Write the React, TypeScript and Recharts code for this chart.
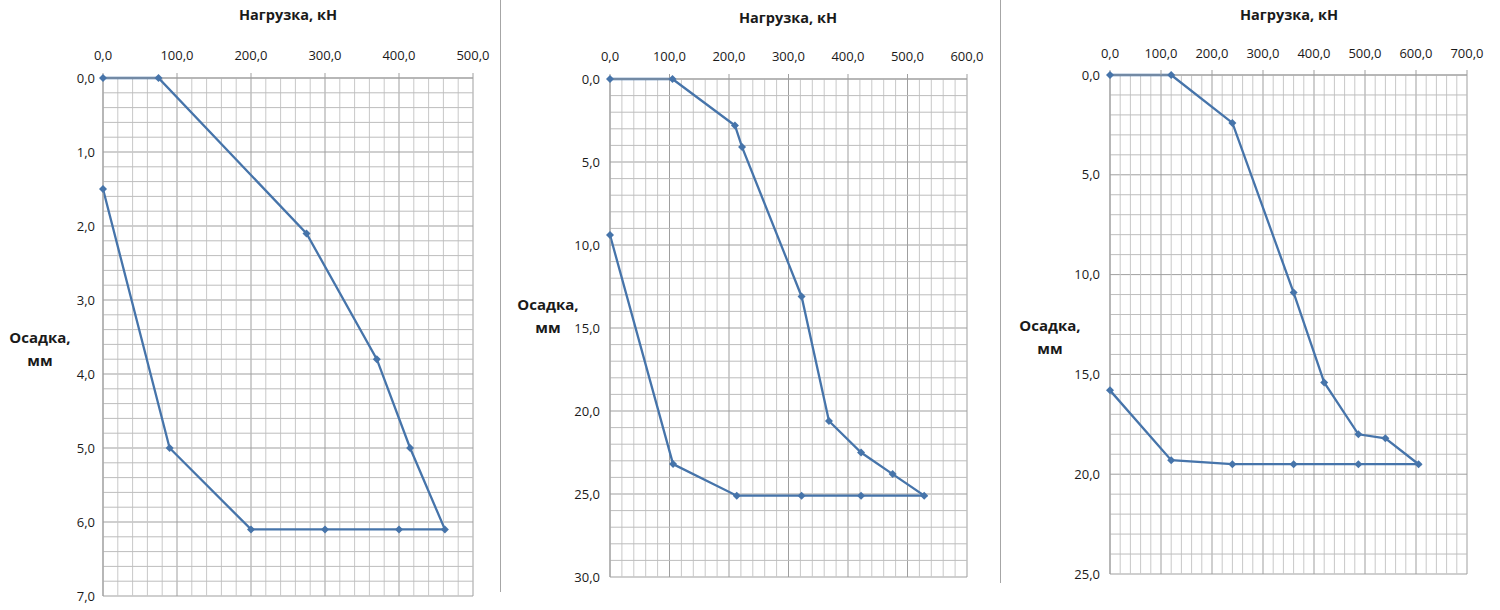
import React from 'react';
import { LineChart, Line, XAxis, YAxis, CartesianGrid, ReferenceLine } from 'recharts';

// Panel 1
const load1 = [0, 75, 275, 370, 415, 462, 400, 300, 200, 90, 0];
const settle1 = [0, 0, 2.1, 3.8, 5.0, 6.1, 6.1, 6.1, 6.1, 5.0, 1.5];
const xTicks1 = [0, 100, 200, 300, 400, 500];
const yTicks1 = [0, 1, 2, 3, 4, 5, 6, 7];

// Panel 2
const load2 = [0, 105, 210, 222, 322, 368, 422, 475, 528, 422, 322, 213, 106, 0];
const settle2 = [0, 0, 2.8, 4.1, 13.1, 20.6, 22.5, 23.8, 25.1, 25.1, 25.1, 25.1, 23.2, 9.4];
const xTicks2 = [0, 100, 200, 300, 400, 500, 600];
const yTicks2 = [0, 5, 10, 15, 20, 25, 30];

// Panel 3
const load3 = [0, 120, 240, 360, 420, 487, 540, 605, 487, 360, 240, 120, 0];
const settle3 = [0, 0, 2.4, 10.9, 15.4, 18.0, 18.2, 19.5, 19.5, 19.5, 19.5, 19.3, 15.8];
const xTicks3 = [0, 100, 200, 300, 400, 500, 600, 700];
const yTicks3 = [0, 5, 10, 15, 20, 25];

const TITLE_X = 'Нагрузка, кН';
const TITLE_Y1 = 'Осадка,';
const TITLE_Y2 = 'мм';

const LINE_COLOR = '#4674aa';
const FONT = '"Open Sans", "Noto Sans", sans-serif';

const minorSteps = (max: number, step: number, major: number[]) => {
  const out: number[] = [];
  const n = Math.round(max / step);
  for (let i = 0; i <= n; i++) {
    const v = +(i * step).toFixed(4);
    if (!major.some((m) => Math.abs(m - v) < 1e-6)) out.push(v);
  }
  return out;
};

const fmt = (v: number) => v.toFixed(1).replace('.', ',');

const Diamond = (props: any) => {
  const { cx, cy, index } = props;
  if (cx == null || cy == null) return null;
  const r = 4;
  return (
    <path
      key={`d-${index}`}
      d={`M${cx},${cy - r}L${cx + r},${cy}L${cx},${cy + r}L${cx - r},${cy}Z`}
      fill={LINE_COLOR}
    />
  );
};

type PanelProps = {
  left: number;
  loads: number[];
  settles: number[];
  xTicks: number[];
  yTicks: number[];
  xMinorStep: number;
  yMinorStep: number;
  margin: { top: number; right: number; bottom: number; left: number };
  xAxisHeight: number;
  xTickMargin: number;
  yTickMargin: number;
  titleX: number;
  titleY: number;
  ylabX: number;
  ylabY: number;
};

const Panel = (p: PanelProps) => {
  const data = p.loads.map((x, i) => ({ x, y: p.settles[i] }));
  const xMax = p.xTicks[p.xTicks.length - 1];
  const yMax = p.yTicks[p.yTicks.length - 1];
  const xMinor = minorSteps(xMax, p.xMinorStep, p.xTicks);
  const yMinor = minorSteps(yMax, p.yMinorStep, p.yTicks);
  return (
    <div style={{ position: 'absolute', left: p.left, top: 0, width: 500, height: 610 }}>
      <LineChart width={500} height={610} data={data} margin={p.margin}>
        <CartesianGrid stroke="#9f9f9f" strokeWidth={1} />
        <XAxis
          type="number"
          dataKey="x"
          domain={[0, xMax]}
          ticks={p.xTicks}
          orientation="top"
          height={p.xAxisHeight}
          tickFormatter={fmt}
          axisLine={{ stroke: '#9f9f9f' }}
          tickLine={{ stroke: '#9f9f9f' }}
          tickSize={5}
          tickMargin={p.xTickMargin}
          tick={{ fill: '#1a1a1a', fontSize: 13, fontFamily: FONT }}
          interval={0}
        />
        <YAxis
          type="number"
          domain={[0, yMax]}
          ticks={p.yTicks}
          reversed
          width={60}
          tickFormatter={fmt}
          axisLine={{ stroke: '#9f9f9f' }}
          tickLine={false}
          tickSize={0}
          tickMargin={p.yTickMargin}
          tick={{ fill: '#1a1a1a', fontSize: 13, fontFamily: FONT }}
          interval={0}
        />
        {xMinor.map((v) => (
          <ReferenceLine key={`vx-${v}`} x={v} stroke="#c8c8c8" strokeWidth={1} />
        ))}
        {yMinor.map((v) => (
          <ReferenceLine key={`hy-${v}`} y={v} stroke="#bdbdbd" strokeWidth={1} />
        ))}
        <Line
          type="linear"
          dataKey="y"
          stroke={LINE_COLOR}
          strokeWidth={2.3}
          dot={Diamond}
          activeDot={false}
          isAnimationActive={false}
        />
      </LineChart>
      <div
        style={{
          position: 'absolute',
          left: p.titleX - 100,
          top: p.titleY - 11,
          width: 200,
          height: 22,
          lineHeight: '22px',
          textAlign: 'center',
          fontFamily: FONT,
          fontWeight: 700,
          fontSize: 14.5,
          color: '#1a1a1a',
        }}
      >
        {TITLE_X}
      </div>
      <div
        style={{
          position: 'absolute',
          left: p.ylabX - 50,
          top: p.ylabY - 11,
          width: 100,
          lineHeight: '23px',
          textAlign: 'center',
          fontFamily: FONT,
          fontWeight: 700,
          fontSize: 15,
          color: '#1a1a1a',
        }}
      >
        <div>{TITLE_Y1}</div>
        <div>{TITLE_Y2}</div>
      </div>
    </div>
  );
};

export default function App() {
  return (
    <div
      style={{
        position: 'absolute',
        left: 0,
        top: 0,
        width: 1500,
        height: 610,
        background: '#ffffff',
        overflow: 'hidden',
      }}
    >
      <Panel
        left={0}
        loads={load1}
        settles={settle1}
        xTicks={xTicks1}
        yTicks={yTicks1}
        xMinorStep={20}
        yMinorStep={0.2}
        margin={{ top: 0, right: 27, bottom: 14, left: 43 }}
        xAxisHeight={78}
        xTickMargin={13}
        yTickMargin={8}
        titleX={288}
        titleY={15}
        ylabX={40}
        ylabY={337}
      />
      <Panel
        left={500}
        loads={load2}
        settles={settle2}
        xTicks={xTicks2}
        yTicks={yTicks2}
        xMinorStep={20}
        yMinorStep={1}
        margin={{ top: 0, right: 33, bottom: 33, left: 50 }}
        xAxisHeight={79}
        xTickMargin={13}
        yTickMargin={10}
        titleX={288}
        titleY={18}
        ylabX={48}
        ylabY={304}
      />
      <Panel
        left={1000}
        loads={load3}
        settles={settle3}
        xTicks={xTicks3}
        yTicks={yTicks3}
        xMinorStep={20}
        yMinorStep={1}
        margin={{ top: 0, right: 33, bottom: 36, left: 50 }}
        xAxisHeight={75}
        xTickMargin={12}
        yTickMargin={10}
        titleX={289}
        titleY={15}
        ylabX={50}
        ylabY={325}
      />
      <div style={{ position: 'absolute', left: 500, top: 0, width: 1, height: 592, background: '#a6a6a6' }} />
      <div style={{ position: 'absolute', left: 1000, top: 0, width: 1, height: 583, background: '#a6a6a6' }} />
    </div>
  );
}
